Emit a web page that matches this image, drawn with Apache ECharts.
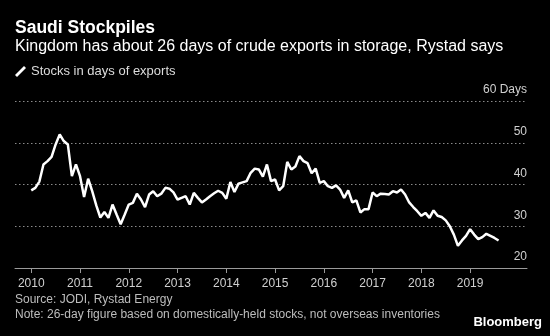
<!DOCTYPE html>
<html>
<head>
<meta charset="utf-8">
<script src="https://cdn.jsdelivr.net/npm/echarts@6/dist/echarts.min.js"></script>
<style>
  html, body { margin: 0; padding: 0; background: #000; }
  #chart { width: 550px; height: 336px; }
</style>
</head>
<body>
<div id="chart"></div>
<script>
// ---- Data (monthly, days of exports) ----
const tickYears = ['2010', '2011', '2012', '2013', '2014', '2015', '2016', '2017', '2018', '2019'];
const v2010 = [38.6, 39.2, 40.7, 44.8, 45.6, 46.6, 49.6, 52.0, 50.4, 49.6, 42.0, 44.8];
const v2011 = [42.0, 37.0, 41.4, 38.4, 35.0, 32.1, 33.4, 32.0, 35.2, 32.8, 30.5, 32.8];
const v2012 = [35.2, 35.6, 37.8, 36.4, 34.6, 37.6, 38.4, 37.2, 37.8, 39.2, 39.0, 38.1];
const v2013 = [36.4, 36.8, 37.2, 35.2, 38.0, 36.8, 35.7, 36.4, 37.2, 37.9, 38.5, 38.0];
const v2014 = [36.6, 40.6, 38.2, 40.2, 40.5, 40.8, 42.8, 43.8, 43.6, 41.9, 44.8, 40.8];
const v2015 = [41.2, 38.6, 39.6, 45.4, 43.6, 44.3, 46.8, 45.6, 45.1, 42.7, 43.8, 40.4];
const v2016 = [40.8, 39.6, 39.2, 39.8, 38.8, 36.8, 38.6, 35.7, 36.2, 33.3, 34.1, 34.1];
const v2017 = [38.1, 37.2, 37.8, 37.7, 37.6, 38.4, 38.1, 38.8, 37.6, 35.7, 34.6, 33.6];
const v2018 = [32.5, 33.2, 32.0, 33.8, 32.5, 32.2, 31.4, 30.0, 28.0, 25.3, 26.6, 27.7];
const v2019 = [29.3, 28.0, 26.9, 27.4, 28.2, 27.7, 27.2, 26.6];
const yTicks = [20, 30, 40, 50, 60];

const stocks = [].concat(v2010, v2011, v2012, v2013, v2014, v2015, v2016, v2017, v2018, v2019);

// monthly categories: Sep 2009 .. Mar 2020 (axis padding on both ends)
const months = [];
for (let y = 2009; y <= 2020; y++) {
  for (let m = 1; m <= 12; m++) {
    if (y === 2009 && m < 9) continue;
    if (y === 2020 && m > 3) continue;
    months.push(y + '-' + (m < 10 ? '0' + m : m));
  }
}
const startIdx = months.indexOf('2010-01');
const seriesData = months.map((c, i) => {
  const k = i - startIdx;
  return (k >= 0 && k < stocks.length) ? stocks[k] : null;
});
const isJan = (idx, val) => val.slice(5) === '01' && tickYears.indexOf(val.slice(0, 4)) >= 0;

const FONT = '"Liberation Sans", Arial, sans-serif';
const chart = echarts.init(document.getElementById('chart'), null, { renderer: 'canvas' });
chart.setOption({
  backgroundColor: '#000',
  animation: false,
  textStyle: { fontFamily: FONT },
  title: [
    { text: 'Saudi Stockpiles', left: 15, top: 19, padding: 0,
      textStyle: { color: '#fff', fontSize: 17.5, fontWeight: 'bold', fontFamily: FONT } },
    { text: 'Kingdom has about 26 days of crude exports in storage, Rystad says', left: 15, top: 39, padding: 0,
      textStyle: { color: '#fff', fontSize: 16, fontWeight: 'normal', fontFamily: FONT } },
    { text: 'Source: JODI, Rystad Energy', left: 15, top: 294, padding: 0,
      textStyle: { color: '#bdbdbd', fontSize: 12, fontWeight: 'normal', fontFamily: FONT } },
    { text: 'Note: 26-day figure based on domestically-held stocks, not overseas inventories', left: 15, top: 309, padding: 0,
      textStyle: { color: '#bdbdbd', fontSize: 12, fontWeight: 'normal', fontFamily: FONT } },
    { text: 'Bloomberg', right: 8, top: 316, padding: 0,
      textStyle: { color: '#fff', fontSize: 13, fontWeight: 'bold', fontFamily: FONT } }
  ],
  legend: {
    left: 15, top: 65, padding: 0,
    itemWidth: 11, itemHeight: 11, itemGap: 10,
    icon: 'path://M9,0 L11,2 L2,11 L0,9 Z',
    textStyle: { color: '#dcdcdc', fontSize: 13, fontFamily: FONT },
    data: [{ name: 'Stocks in days of exports', itemStyle: { color: '#fff' } }]
  },
  grid: { left: 15, right: 23, top: 101, bottom: 68, containLabel: false },
  xAxis: {
    type: 'category',
    data: months,
    boundaryGap: false,
    axisLine: { show: true, lineStyle: { color: '#9a9a9a', width: 1 } },
    axisTick: { show: true, interval: isJan, length: 5, lineStyle: { color: '#9a9a9a' } },
    axisLabel: {
      interval: isJan, color: '#d0d0d0', fontSize: 12, margin: 10, fontFamily: FONT,
      formatter: v => v.slice(0, 4)
    },
    splitLine: { show: false }
  },
  yAxis: {
    type: 'value',
    position: 'right',
    min: 20, max: 60, interval: 10,
    axisLine: { show: false },
    axisTick: { show: false },
    axisLabel: {
      inside: true, margin: 0, color: '#d0d0d0', fontSize: 12, fontFamily: FONT,
      verticalAlign: 'bottom', lineHeight: 14, padding: [0, 0, 4, 0],
      formatter: v => (yTicks.indexOf(v) >= 0 ? (v === 60 ? '60 Days' : String(v)) : '')
    },
    splitLine: { show: true, lineStyle: { color: '#8a8a8a', type: [1.5, 2.5], width: 1 } }
  },
  series: [{
    name: 'Stocks in days of exports',
    type: 'line',
    data: seriesData,
    showSymbol: false,
    symbol: 'none',
    connectNulls: false,
    lineStyle: { color: '#fff', width: 2.5 },
    itemStyle: { color: '#fff' }
  }]
});
</script>
</body>
</html>
